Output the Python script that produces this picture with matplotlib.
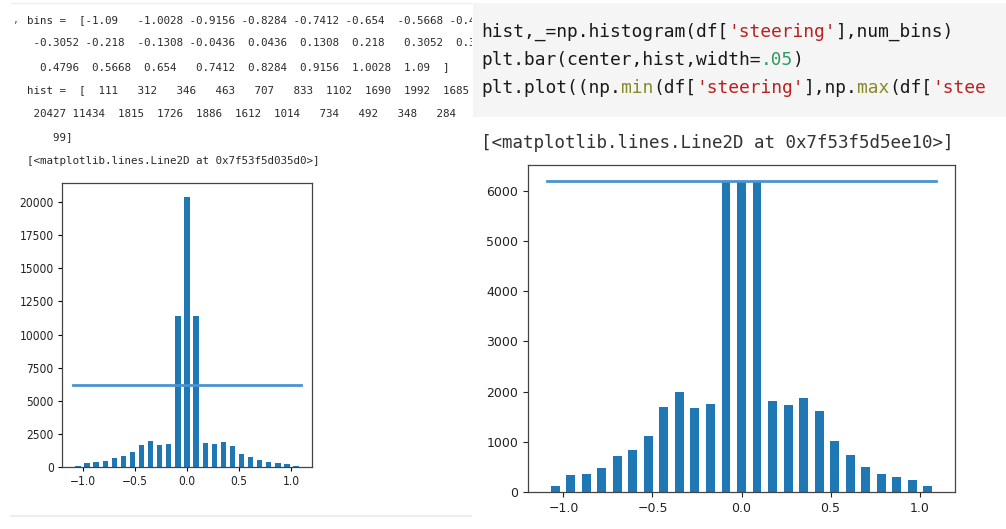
import matplotlib.pyplot as plt
from matplotlib.patches import Rectangle
import numpy as np

# histogram of steering angles, 25 bins
num_bins = 25
samples_per_bin = 6200

bins = [-1.09, -1.0028, -0.9156, -0.8284, -0.7412, -0.654, -0.5668, -0.4796, -0.3924,
        -0.3052, -0.218, -0.1308, -0.0436, 0.0436, 0.1308, 0.218, 0.3052, 0.3924,
        0.4796, 0.5668, 0.654, 0.7412, 0.8284, 0.9156, 1.0028, 1.09]

# counts before balancing (left notebook)
hist = [111, 312, 346, 463, 707, 833, 1102, 1690, 1992, 1685, 1760, 11420,
        20427, 11434, 1815, 1726, 1886, 1612, 1014, 734, 492, 348, 284, 243, 99]

# counts as drawn in the right notebook (centre bins cut at samples_per_bin)
hist_cut = [125, 330, 355, 480, 720, 835, 1105, 1700, 2000, 1670, 1760, 6200,
            6200, 6200, 1820, 1730, 1880, 1610, 1015, 745, 505, 360, 300, 240, 120]

W, H = 1006, 529
fig = plt.figure(figsize=(W / 100, H / 100), dpi=100)
fig.patch.set_facecolor('white')

def box(x0, y0, x1, y1):
    # pixel box (from top-left) -> figure fraction rect
    return [x0 / W, 1 - y1 / H, (x1 - x0) / W, (y1 - y0) / H]

bins_a = np.array(bins)
center = (bins_a[:-1] + bins_a[1:]) * 0.5

# ---------------- left notebook ----------------
bg = fig.add_axes(box(0, 0, 472, H))
bg.set_xlim(0, 472)
bg.set_ylim(H, 0)
bg.axis('off')
bg.plot([11, 472], [3, 3], color='#eeeeee', lw=1)
bg.plot([11, 472], [516, 516], color='#eeeeee', lw=1.5)

mono = 'DejaVu Sans Mono'
txt_lines = []
b_lines = str(bins_a).split('\n')
txt_lines.append('bins =  ' + b_lines[0])
txt_lines += b_lines[1:]
h_lines = str(np.array(hist)).split('\n')
txt_lines.append('hist =  ' + h_lines[0])
txt_lines += h_lines[1:]
txt_lines.append('[<matplotlib.lines.Line2D at 0x7f53f5d035d0>]')

y0, dy = 20, 23.5
for i, s in enumerate(txt_lines):
    bg.text(27, y0 + i * dy, s, family=mono, fontsize=7.8, color='#2a2a2a',
            va='center', ha='left', clip_on=True)
bg.text(12, 20, ',', family=mono, fontsize=7, color='#555555', va='center')

ax1 = fig.add_axes(box(62, 183, 312, 467))
ax1.bar(center, hist, width=.05, color='#1f77b4')
ax1.plot((np.min(bins), np.max(bins)), (samples_per_bin, samples_per_bin),
         color='#4a93cf', lw=2)
ax1.set_xticks([-1.0, -0.5, 0.0, 0.5, 1.0])
ax1.set_yticks(np.arange(0, 20001, 2500))
for lab in ax1.get_xticklabels() + ax1.get_yticklabels():
    lab.set_fontsize(8.6)
    lab.set_fontstretch('condensed')
    lab.set_color('#222222')
ax1.tick_params(length=3, width=0.8, pad=3)
for sp in ax1.spines.values():
    sp.set_color('#444444')
    sp.set_linewidth(0.9)

# ---------------- right notebook ----------------
cell = fig.add_axes(box(473, 0, W, H))
cell.set_xlim(473, W)
cell.set_ylim(H, 0)
cell.axis('off')
cell.add_patch(Rectangle((473, 3), W - 473, 114, color='#f5f5f5', lw=0))

cw = 10.75
fs = 12.85
red, green, olive, black = '#ba2121', '#2e9a62', '#8a8a2a', '#1a1a1a'
code = [
    [('hist,_=np.histogram(df[', black), ("'steering'", red), ('],num_bins)', black)],
    [('plt.bar(center,hist,width=', black), ('.05', green), (')', black)],
    [('plt.plot((np.', black), ('min', olive), ('(df[', black), ("'steering'", red),
     ('],np.', black), ('max', olive), ('(df[', black), ("'stee", red)],
]
for row, parts in enumerate(code):
    col = 0
    for s, c in parts:
        cell.text(481 + col * cw, 32 + row * 28, s, family=mono, fontsize=fs,
                  color=c, va='center', ha='left', clip_on=True)
        col += len(s)
cell.text(481, 143, '[<matplotlib.lines.Line2D at 0x7f53f5d5ee10>]', family=mono,
          fontsize=12.6, color='#333333', va='center', ha='left', clip_on=True)

ax2 = fig.add_axes(box(528, 165, 955, 492))
ax2.bar(center, hist_cut, width=.05, color='#1f77b4')
ax2.plot((np.min(bins), np.max(bins)), (samples_per_bin, samples_per_bin),
         color='#4a93cf', lw=2)
ax2.set_xticks([-1.0, -0.5, 0.0, 0.5, 1.0])
ax2.tick_params(labelsize=9, length=3.5, width=0.8, colors='#222222')
for sp in ax2.spines.values():
    sp.set_color('#444444')
    sp.set_linewidth(0.9)

fig.savefig('out.png', dpi=100)
